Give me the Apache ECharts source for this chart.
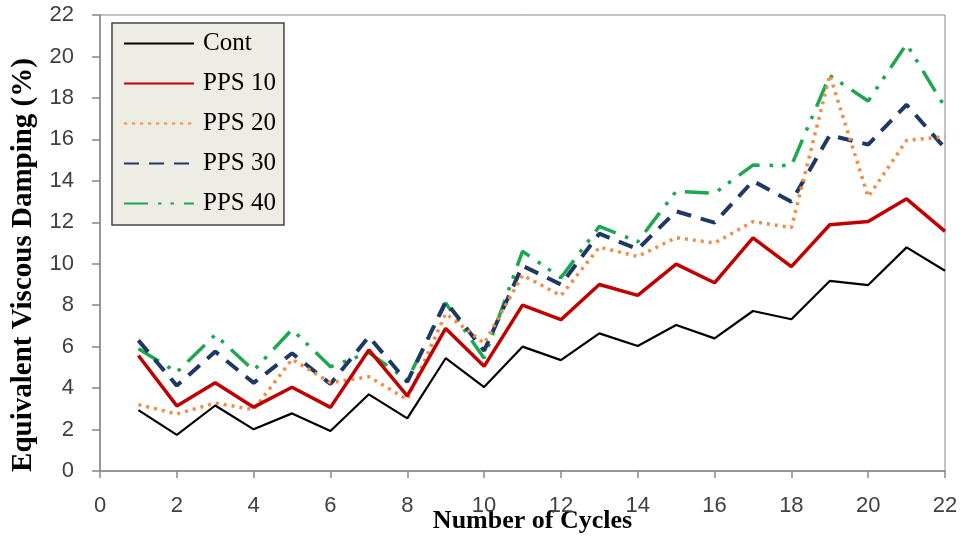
<!DOCTYPE html>
<html>
<head>
<meta charset="utf-8">
<script src="https://cdn.jsdelivr.net/npm/echarts@6/dist/echarts.min.js"></script>
<style>
html,body{margin:0;padding:0;background:#fff;}
#chart{width:961px;height:538px;}
</style>
</head>
<body>
<div id="chart"></div>
<script>
// ---- data ----
const cycles = [1,2,3,4,5,6,7,8,9,10,11,12,13,14,15,16,17,18,19,20,21,22];
const seriesNames = ['Cont', 'PPS 10', 'PPS 20', 'PPS 30', 'PPS 40'];
const cont  = [2.94,1.74,3.16,2.01,2.78,1.93,3.70,2.54,5.44,4.05,6.00,5.35,6.64,6.03,7.04,6.40,7.72,7.32,9.17,8.97,10.79,9.66];
const pps10 = [5.57,3.14,4.26,3.08,4.04,3.07,5.84,3.62,6.88,5.05,8.00,7.30,9.00,8.47,9.98,9.08,11.25,9.86,11.88,12.04,13.13,11.56];
const pps20 = [3.20,2.75,3.28,2.96,5.39,4.26,4.55,3.45,7.60,6.16,9.45,8.46,10.80,10.35,11.26,11.00,12.03,11.74,19.10,13.23,15.95,16.13];
const pps30 = [6.30,4.12,5.76,4.25,5.68,4.20,6.48,4.30,8.17,5.80,9.90,9.00,11.45,10.70,12.53,11.98,13.99,12.99,16.20,15.75,17.67,15.57];
const pps40 = [5.90,4.77,6.57,4.85,6.83,5.03,5.71,4.39,8.10,5.44,10.60,9.32,11.80,11.06,13.50,13.40,14.76,14.73,19.08,17.85,20.60,17.55];
const xTicks = [0,2,4,6,8,10,12,14,16,18,20,22];
const yTicks = [0,2,4,6,8,10,12,14,16,18,20,22];

const allValues = [cont, pps10, pps20, pps30, pps40];
const styles = [
  {color:'#000000', width:2.2, type:'solid'},
  {color:'#c00000', width:3.5, type:'solid'},
  {color:'#f08c48', width:3.5, type:[3,5]},
  {color:'#1f3864', width:4,   type:[15,10]},
  {color:'#1ea650', width:3.5, type:[24,10,3.5,9,3.5,10]}
];

const series = seriesNames.map((name, i) => ({
  name: name,
  type: 'line',
  data: cycles.map((c, k) => [c, allValues[i][k]]),
  symbol: 'none',
  smooth: false,
  lineStyle: {color: styles[i].color, width: styles[i].width, type: styles[i].type},
  itemStyle: {color: styles[i].color},
  emphasis: {disabled: true},
  z: 10 - i
}));

const chart = echarts.init(document.getElementById('chart'), null, {renderer:'canvas'});
const axisGray = '#888888';
chart.setOption({
  animation: false,
  backgroundColor: '#ffffff',
  grid: {left: 100, right: 16, top: 15, bottom: 67, show: true, borderColor: axisGray, borderWidth: 1, containLabel: false, outerBoundsMode: 'none'},
  legend: {
    orient: 'vertical',
    left: 112, top: 23,
    padding: [8, 8, 9, 11],
    itemGap: 15,
    itemWidth: 70,
    itemHeight: 14,
    backgroundColor: '#eeede5',
    borderColor: '#444444',
    borderWidth: 1.5,
    data: seriesNames,
    itemStyle: {opacity: 0, color: 'transparent', borderColor: 'transparent', borderWidth: 0},
    textStyle: {fontFamily: 'Liberation Serif', fontSize: 25, color: '#000', padding: [0,0,0,4]}
  },
  xAxis: {
    type: 'value',
    min: xTicks[0], max: xTicks[xTicks.length-1], interval: xTicks[1]-xTicks[0],
    name: 'Number of Cycles',
    nameLocation: 'middle',
    nameGap: 37,
    nameMoveOverlap: false,
    nameTextStyle: {fontFamily: 'Liberation Serif', fontWeight: 'bold', fontSize: 26, color: '#000', padding: [0,0,0,20]},
    axisLine: {show: true, lineStyle: {color: axisGray, width: 1.5}},
    axisTick: {show: true, inside: false, length: 7, lineStyle: {color: axisGray, width: 1.5}},
    axisLabel: {fontFamily: 'Liberation Sans', fontSize: 22, color: '#404040', margin: 24},
    splitLine: {show: false}
  },
  yAxis: {
    type: 'value',
    min: yTicks[0], max: yTicks[yTicks.length-1], interval: yTicks[1]-yTicks[0],
    name: 'Equivalent Viscous Damping (%)',
    nameLocation: 'middle',
    nameGap: 62,
    nameMoveOverlap: false,
    nameTextStyle: {fontFamily: 'Liberation Serif', fontWeight: 'bold', fontSize: 29, color: '#000', padding: [0,44,0,0]},
    axisLine: {show: true, lineStyle: {color: axisGray, width: 1.5}},
    axisTick: {show: true, inside: false, length: 8, lineStyle: {color: axisGray, width: 1.5}},
    axisLabel: {fontFamily: 'Liberation Sans', fontSize: 22, color: '#404040', margin: 26},
    splitLine: {show: false}
  },
  series: series
});
</script>
</body>
</html>
